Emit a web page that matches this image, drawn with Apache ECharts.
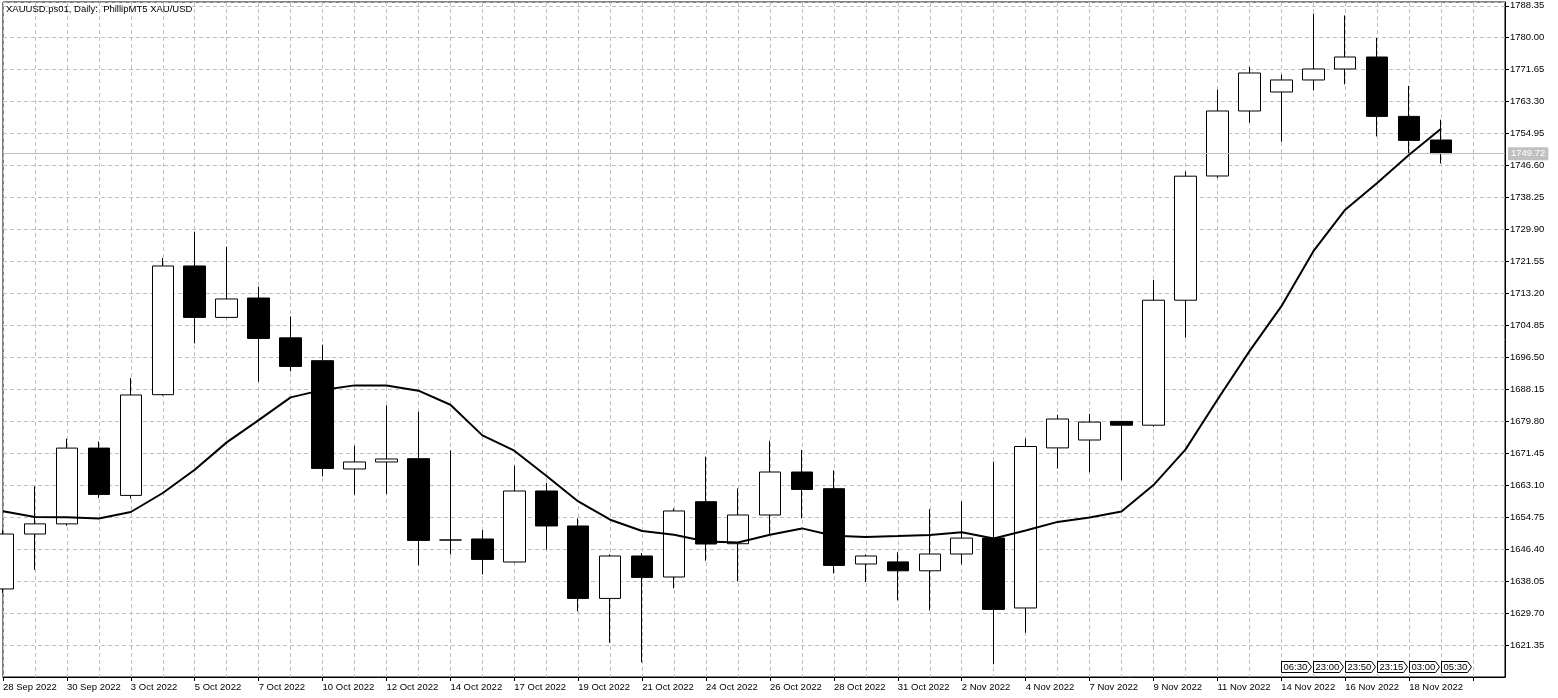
<!DOCTYPE html>
<html>
<head>
<meta charset="utf-8">
<script src="https://cdn.jsdelivr.net/npm/echarts@6/dist/echarts.min.js"></script>
<style>
html,body{margin:0;padding:0;background:#fff;}
#chart{width:1558px;height:698px;}
</style>
</head>
<body>
<div id="chart"></div>
<script>
// ---------- data ----------
var titleText = 'XAUUSD.ps01, Daily:  PhillipMT5 XAU/USD';
var categories = ['28 Sep 2022','29 Sep 2022','30 Sep 2022','2 Oct 2022','3 Oct 2022','4 Oct 2022','5 Oct 2022','6 Oct 2022','7 Oct 2022','9 Oct 2022','10 Oct 2022','11 Oct 2022','12 Oct 2022','13 Oct 2022','14 Oct 2022','16 Oct 2022','17 Oct 2022','18 Oct 2022','19 Oct 2022','20 Oct 2022','21 Oct 2022','23 Oct 2022','24 Oct 2022','25 Oct 2022','26 Oct 2022','27 Oct 2022','28 Oct 2022','30 Oct 2022','31 Oct 2022','1 Nov 2022','2 Nov 2022','3 Nov 2022','4 Nov 2022','6 Nov 2022','7 Nov 2022','8 Nov 2022','9 Nov 2022','10 Nov 2022','11 Nov 2022','13 Nov 2022','14 Nov 2022','15 Nov 2022','16 Nov 2022','17 Nov 2022','18 Nov 2022','20 Nov 2022'];
var opens  = [1636.00,1650.35,1653.00,1672.80,1660.44,1686.75,1720.37,1706.94,1712.00,1701.60,1695.63,1667.34,1669.17,1670.03,1648.79,1649.05,1643.04,1661.59,1652.45,1633.53,1644.61,1639.12,1658.79,1647.82,1655.32,1666.55,1662.19,1642.52,1643.07,1640.74,1645.13,1649.29,1631.03,1672.85,1674.91,1679.77,1678.78,1711.43,1743.88,1760.86,1765.82,1768.96,1771.83,1774.96,1759.45,1753.28];
var highs  = [1651.50,1662.80,1675.25,1674.50,1691.10,1722.46,1729.33,1725.41,1714.96,1707.20,1699.81,1673.42,1683.95,1682.30,1672.20,1651.40,1668.20,1663.68,1654.43,1645.03,1645.40,1657.04,1670.55,1662.27,1674.73,1672.30,1666.97,1645.03,1645.60,1656.83,1658.90,1669.24,1675.28,1681.50,1681.76,1679.90,1716.73,1745.08,1766.42,1772.35,1770.34,1786.28,1785.83,1779.93,1767.39,1758.59];
var lows   = [1635.00,1641.00,1652.50,1659.75,1659.60,1686.50,1700.15,1706.70,1690.14,1692.83,1665.40,1660.62,1660.80,1642.15,1645.03,1639.80,1642.90,1646.26,1630.14,1621.96,1616.81,1636.15,1643.38,1637.97,1650.17,1654.43,1640.06,1637.82,1633.00,1630.40,1642.44,1616.34,1624.55,1667.44,1666.45,1664.38,1678.40,1701.64,1743.35,1757.80,1752.84,1766.24,1767.81,1754.22,1749.70,1747.17];
var closes = [1650.35,1653.00,1672.80,1660.70,1686.67,1720.37,1706.94,1711.75,1701.45,1694.14,1667.49,1669.17,1669.95,1648.68,1648.79,1643.72,1661.59,1652.45,1633.53,1644.61,1639.02,1656.37,1647.74,1655.32,1666.55,1662.00,1642.15,1644.61,1640.74,1645.13,1649.29,1630.66,1673.21,1680.40,1679.59,1678.78,1711.43,1743.83,1760.86,1770.78,1768.96,1771.83,1774.96,1759.45,1753.18,1749.72];
var maValues = [1656.30,1654.80,1654.70,1654.43,1656.10,1661.07,1667.15,1674.29,1680.10,1686.04,1688.00,1689.18,1689.15,1687.80,1684.13,1676.12,1672.12,1665.59,1658.87,1654.09,1651.14,1650.17,1648.42,1648.16,1650.17,1651.82,1649.91,1649.57,1649.83,1650.10,1650.80,1649.18,1651.27,1653.52,1654.67,1656.21,1663.13,1672.40,1685.44,1698.06,1709.81,1724.18,1735.07,1742.05,1749.44,1756.23];
var currentPrice = 1749.72;
var eventDates = ['14 Nov 2022','15 Nov 2022','16 Nov 2022','17 Nov 2022','18 Nov 2022','20 Nov 2022'];
var eventTimes = ['06:30','23:00','23:50','23:15','03:00','05:30'];
var yBase = 1613.00;      // axis bottom value
var yTop = 1789.33;       // axis top value
var yStep = 8.35;         // tick step
var padCategories = ['', ''];

// ---------- build ----------
var FONT = '"Liberation Sans", Arial, sans-serif';
var FS = 9.5;
var xCats = categories.concat(padCategories);
function off(v){ return +(v - yBase).toFixed(4); }
var candleData = categories.map(function(c, i){
  return [off(opens[i]), off(closes[i]), off(lows[i]), off(highs[i])];
});
var maData = maValues.map(off);
var eventData = eventDates.map(function(d){ return [d, 0]; });

var chart = echarts.init(document.getElementById('chart'), null, {renderer:'canvas'});
var dashed = {color:'#c0c0c0', type:[4,3], width:1};
chart.setOption({
  animation:false,
  backgroundColor:'#fff',
  title:{
    text:titleText, left:1, top:-1,
    textStyle:{fontSize:FS, fontWeight:'normal', color:'#000', fontFamily:FONT}
  },
  grid:{left:2, top:2, right:53, bottom:21, show:true, borderColor:'#000', borderWidth:1, backgroundColor:'#fff', containLabel:false},
  xAxis:{
    type:'category', data:xCats, boundaryGap:false,
    axisLine:{show:true, lineStyle:{color:'#000', width:1}},
    axisTick:{show:true, interval:1, length:4, lineStyle:{color:'#000'}},
    axisLabel:{interval:1, align:'left', margin:5, color:'#000', fontSize:FS, fontFamily:FONT},
    splitLine:{show:true, interval:0, lineStyle:dashed}
  },
  yAxis:{
    type:'value', position:'right', min:0, max:+(yTop - yBase).toFixed(4), interval:yStep, scale:false,
    axisLine:{show:true, lineStyle:{color:'#000', width:1}},
    axisTick:{show:true, length:4, lineStyle:{color:'#000'}},
    axisLabel:{margin:5, color:'#000', fontSize:FS, fontFamily:FONT, showMinLabel:false, showMaxLabel:false,
      formatter:function(v){ return (yBase + v).toFixed(2); }},
    splitLine:{show:true, lineStyle:dashed}
  },
  series:[
    {
      type:'candlestick', data:candleData, barWidth:22, clip:true, silent:true,
      itemStyle:{color:'#fff', color0:'#000', borderColor:'#000', borderColor0:'#000', borderColorDoji:'#000', borderWidth:1},
      markLine:{
        silent:true, symbol:['none','none'], animation:false,
        lineStyle:{color:'#c0c0c0', type:'solid', width:1},
        label:{position:'end', distance:3, formatter:currentPrice.toFixed(2), backgroundColor:'#c0c0c0', color:'#fff',
          padding:[2,3,1,3], fontSize:FS, fontFamily:FONT},
        data:[{yAxis:off(currentPrice)}]
      }
    },
    {
      type:'line', data:maData, showSymbol:false, symbol:'none', smooth:false, silent:true, z:5,
      lineStyle:{color:'#000', width:2}
    },
    {
      type:'custom', data:eventData, silent:true, z:6, clip:false,
      encode:{x:0, y:1},
      renderItem:function(params, api){
        var x = Math.round(api.coord([api.value(0), 0])[0]) + 0.5;
        var cs = params.coordSys;
        var yb = Math.round(cs.y + cs.height - 5) + 0.5;
        var h = 11, w = 26, tip = 4;
        var yt = yb - h;
        return {type:'group', children:[
          {type:'polygon', shape:{points:[[x,yt],[x+w,yt],[x+w+tip,yt+h/2],[x+w,yb],[x,yb]]},
           style:{fill:'#fff', stroke:'#000', lineWidth:1}},
          {type:'text', x:x+2, y:yt+h/2+0.5,
           style:{text:eventTimes[params.dataIndex], fill:'#000', font:FS + 'px ' + FONT, align:'left', verticalAlign:'middle'}}
        ]};
      }
    }
  ]
});
</script>
</body>
</html>
